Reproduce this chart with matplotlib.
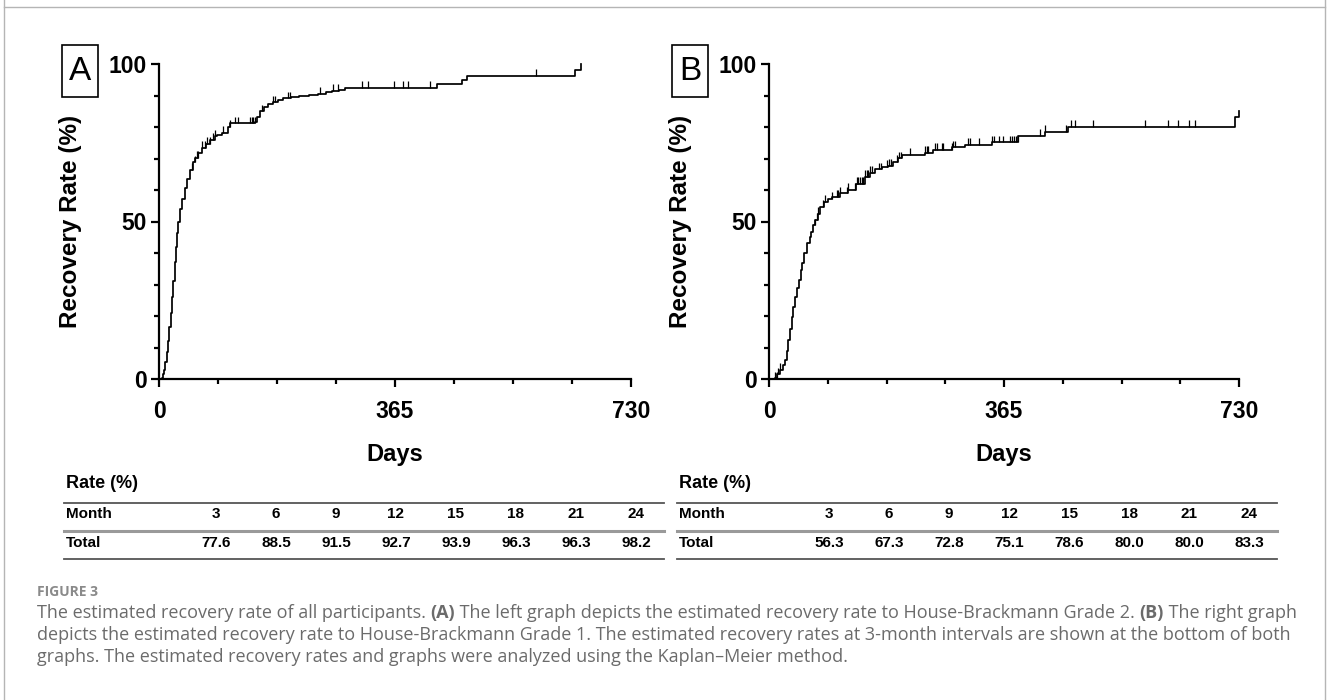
"""
Kaplan-Meier recovery curves (House-Brackmann Grade 2 / Grade 1) with rate tables
"""

import numpy as np
import matplotlib
matplotlib.use('Agg')
import matplotlib.pyplot as plt
from matplotlib.lines import Line2D
from matplotlib.patches import Rectangle

plt.rcParams['font.family'] = ['Liberation Sans', 'DejaVu Sans']

# ======================== data ========================
# Panel A: recovery to HB grade 2 (step events: day, cumulative %)
days_a = [0, 4, 6, 8, 10, 12, 14, 16, 18, 20, 22, 24, 26, 28, 30, 33, 36, 40,
          44, 48, 52, 56, 61, 66, 72, 79, 86, 90, 98, 106, 110, 149, 152, 156,
          162, 168, 176, 184, 192, 204, 216, 232, 246, 258, 267, 278, 288,
          430, 469, 476, 643, 653]
rates_a = [0, 0.3, 1.5, 3.0, 5.5, 8.5, 12.0, 16.5, 21.0, 26.0, 31.0, 37.0,
           42.0, 46.5, 50.0, 54.0, 57.0, 60.5, 63.5, 66.5, 68.8, 70.3, 71.8,
           73.3, 74.6, 75.9, 77.0, 77.6, 78.2, 80.0, 81.2, 81.7, 83.2, 85.0,
           86.2, 87.2, 87.9, 88.5, 89.1, 89.4, 89.7, 90.2, 90.6, 91.0, 91.4,
           91.9, 92.4, 93.75, 94.8, 96.3, 98.2, 100.0]
censor_a = [50.5, 55.7, 58.3, 60.8, 66, 71, 73.7, 78.9, 84, 86.6, 99.5, 109.8,
            117.5, 122.7, 140.7, 143.3, 145.9, 148.5, 158.8, 176.8, 179.4,
            200, 202.6, 249, 269.6, 277.3, 313.6, 323, 362.8, 378, 385,
            419.7, 583.7]

# Panel B: recovery to HB grade 1
days_b = [0, 9, 13, 17, 21, 25, 28, 30, 33, 35, 38, 40, 43, 46, 49, 51, 55,
          59, 63, 66, 69, 72, 76, 79, 85, 92, 98, 110, 123, 135, 149, 157, 165,
          176, 185, 193, 201, 206, 242, 255, 284, 304, 346, 387, 429, 464,
          724, 730]
rates_b = [0, 0.2, 1.5, 2.9, 4.5, 6.0, 9.0, 12.4, 16.0, 19.8, 23.0, 26.1,
           29.0, 31.4, 34.5, 36.7, 40.0, 43.1, 45.2, 46.8, 48.8, 50.5, 52.5,
           54.7, 56.3, 57.3, 57.9, 59.0, 60.0, 62.0, 64.2, 65.5, 66.6, 67.3,
           67.6, 69.0, 70.1, 71.1, 71.8, 72.7, 73.5, 74.3, 75.1, 77.2, 78.5,
           80.0, 83.3, 85.2]
censor_b = [9.3, 11.9, 14.5, 17.1, 71.5, 74, 76.6, 84.4, 87, 97.4, 105, 107.7,
            110.3, 120.7, 123.3, 133.6, 136.2, 138.8, 141.4, 144, 146.6,
            149.2, 151.8, 154.4, 157, 159.6, 170.8, 173.4, 183.7, 186.3,
            188.9, 199.2, 201.8, 204.4, 219, 242, 244.8, 247.4, 257.8, 260.4,
            268.1, 270.7, 283.7, 286.3, 288.9, 309.5, 312.1, 325.6, 346.3,
            348.9, 357.8, 363.5, 375, 377.8, 380.6, 383.5, 386.4, 420.7,
            429.3, 460.8, 469.4, 475.1, 503.7, 583.9, 619.9, 635.4, 652.5,
            661.1]

# 3-monthly estimated rates (tables)
months = ['3', '6', '9', '12', '15', '18', '21', '24']
table_a = ['77.6', '88.5', '91.5', '92.7', '93.9', '96.3', '96.3', '98.2']
table_b = ['56.3', '67.3', '72.8', '75.1', '78.6', '80.0', '80.0', '83.3']

caption_title = 'FIGURE 3'
caption_lines = [
    [('The estimated recovery rate of all participants. ', 'normal'), ('(A)', 'bold'),
     (' The left graph depicts the estimated recovery rate to House-Brackmann Grade 2. ', 'normal'),
     ('(B)', 'bold'), (' The right graph', 'normal')],
    [('depicts the estimated recovery rate to House-Brackmann Grade 1. The estimated '
      'recovery rates at 3-month intervals are shown at the bottom of both', 'normal')],
    [('graphs. The estimated recovery rates and graphs were analyzed using the '
      'Kaplan\u2013Meier method.', 'normal')],
]

# ======================== layout helpers (pixels) ========================
W, H = 1328, 700
fig = plt.figure(figsize=(W / 100, H / 100), dpi=100)
renderer = fig.canvas.get_renderer()


def fx(x):
    return x / W


def fy(y):
    return 1 - y / H


def km_panel(left, right, days, rates, censor, letter):
    ax = fig.add_axes([fx(left), fy(379), (right - left) / W, 315 / H])
    ax.step(days, rates, where='post', color='black', lw=1.25, clip_on=False)
    days = np.asarray(days)
    rates = np.asarray(rates)
    idx = np.searchsorted(days, censor, side='right') - 1
    ax.vlines(censor, rates[idx], rates[idx] + 2.1, color='black', lw=0.9,
              clip_on=False)

    ax.set_xlim(0, 730)
    ax.set_ylim(0, 100)
    ax.set_xticks([0, 365, 730])
    ax.set_xticks(np.arange(0, 731, 91.25), minor=True)
    ax.set_yticks([0, 50, 100])
    ax.set_yticks(np.arange(0, 101, 10), minor=True)
    for s in ['top', 'right']:
        ax.spines[s].set_visible(False)
    for s in ['left', 'bottom']:
        ax.spines[s].set_linewidth(1.6)
    ax.tick_params(which='major', length=6, width=1.6, labelsize=16.5)
    ax.tick_params(which='minor', length=3.8, width=1.6)
    ax.tick_params(axis='x', which='major', pad=9)
    ax.tick_params(axis='y', which='major', pad=3)
    for lab in ax.get_xticklabels() + ax.get_yticklabels():
        lab.set_fontweight('bold')

    ax.set_ylabel('Recovery Rate (%)', fontsize=17.5, fontweight='bold')
    ax.yaxis.set_label_coords(-77 / (right - left), 0.5)
    ax.set_xlabel('Days', fontsize=17, fontweight='bold')
    ax.xaxis.set_label_coords(0.5, (379 - 443) / 315)

    # panel letter box
    bx0, bx1 = left - 97, left - 61
    fig.add_artist(Rectangle((fx(bx0), fy(97)), (bx1 - bx0) / W, 52 / H,
                             transform=fig.transFigure, fill=False,
                             edgecolor='black', lw=1.2))
    fig.text(fx((bx0 + bx1) / 2), fy(72), letter, fontsize=24,
             ha='center', va='center')
    return ax


def rate_table(left, values):
    right = left + 600
    fig.text(fx(left + 2), fy(483), 'Rate (%)', fontsize=13, fontweight='bold',
             va='center', ha='left')
    for y, c, lw in [(503, '#555555', 1.3), (531, '#9a9a9a', 2.2), (559, '#555555', 1.3)]:
        fig.add_artist(Line2D([fx(left), fx(right)], [fy(y), fy(y)],
                              transform=fig.transFigure, color=c, lw=lw))
    fig.text(fx(left + 2), fy(514), 'Month', fontsize=11, fontweight='bold',
             va='center', ha='left')
    fig.text(fx(left + 2), fy(543), 'Total', fontsize=11, fontweight='bold',
             va='center', ha='left')
    for i, (m, v) in enumerate(zip(months, values)):
        cx = left + 152 + 60 * i
        fig.text(fx(cx), fy(514), m, fontsize=11, fontweight='bold',
                 va='center', ha='center')
        fig.text(fx(cx), fy(543), v, fontsize=11, fontweight='bold',
                 va='center', ha='center')


km_panel(159, 631, days_a, rates_a, censor_a, 'A')
km_panel(769, 1239, days_b, rates_b, censor_b, 'B')
rate_table(64, table_a)
rate_table(677, table_b)

# ======================== caption ========================
cap_font = ['Open Sans', 'DejaVu Sans']
cap_color = '#6b6b6b'
fig.text(fx(37), fy(592), caption_title, fontsize=10, fontweight='bold',
         color='#8a8a8a', family=cap_font, va='center', ha='left')

# fit caption size so that line 2 spans ~1246 px
probe = fig.text(0, 0, caption_lines[1][0][0], fontsize=12, family=cap_font)
pw = probe.get_window_extent(renderer=renderer).width
probe.remove()
cap_size = 12 * 1246 / pw

for row, y in zip(caption_lines, [613, 635, 657]):
    x = 37
    for txt, wt in row:
        t = fig.text(fx(x), fy(y), txt, fontsize=cap_size, fontweight=wt,
                     color=cap_color, family=cap_font, va='center', ha='left')
        x += t.get_window_extent(renderer=renderer).width

# light frame round the figure
for xs, ys in [([4, 4], [0, 700]), ([1325, 1325], [0, 700]), ([4, 1325], [7, 7])]:
    fig.add_artist(Line2D([fx(v) for v in xs], [fy(v) for v in ys],
                          transform=fig.transFigure, color='#b5b5b5', lw=1))

fig.savefig('out.png', dpi=100)
